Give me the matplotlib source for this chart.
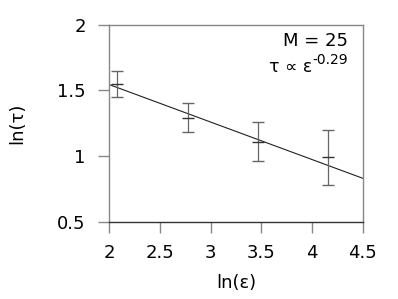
import numpy as np
import matplotlib
matplotlib.use("Agg")
import matplotlib.pyplot as plt

# data
ln_eps = [np.log(8), np.log(16), np.log(32), np.log(64)]
ln_tau = [1.545, 1.29, 1.11, 0.99]
ln_tau_err = [0.10, 0.11, 0.148, 0.21]

# fitted power law  tau ~ eps^slope
slope = -0.285
intercept = 2.113
fit_x = [2.0, 4.5]

fig = plt.figure(figsize=(3.98, 2.99), dpi=100)
ax = fig.add_axes([0.2746, 0.2585, 0.9113 - 0.2746, 0.918 - 0.2585])

fit_y = [intercept + slope * x for x in fit_x]
ax.plot(fit_x, fit_y, color="#222222", lw=0.8)

ax.errorbar(ln_eps, ln_tau, yerr=ln_tau_err, fmt="_", color="#333333",
            ecolor="#666666", elinewidth=0.9, capsize=4.5, capthick=0.9,
            markersize=9, markeredgewidth=1.0)

ax.set_xlim(2, 4.5)
ax.set_ylim(0.5, 2)
ax.set_xticks([2, 2.5, 3, 3.5, 4, 4.5])
ax.set_xticklabels(["2", "2.5", "3", "3.5", "4", "4.5"])
ax.set_yticks([0.5, 1, 1.5, 2])
ax.set_yticklabels(["0.5", "1", "1.5", "2"])

for s in ["top", "right", "left"]:
    ax.spines[s].set_color("#888888")
ax.spines["bottom"].set_color("#333333")
for s in ax.spines.values():
    s.set_linewidth(1.0)
ax.tick_params(direction="out", length=8, width=1.0, color="#888888",
               labelsize=13)
ax.tick_params(axis="x", pad=8)
ax.tick_params(axis="y", pad=9)

ax.set_xlabel("ln(ε)", fontsize=13, labelpad=8.5)
ax.set_ylabel("ln(τ)", fontsize=13, labelpad=22)

# legend-like annotation in the upper right corner
ax.text(0.942, 0.891, "M = 25", transform=ax.transAxes, ha="right",
        va="baseline", fontsize=13)
ax.text(0.942, 0.80, "-0.29", transform=ax.transAxes, ha="right",
        va="baseline", fontsize=10)
ax.text(0.80, 0.759, "τ ∝ ε", transform=ax.transAxes, ha="right",
        va="baseline", fontsize=12.5)

fig.savefig("out.png", dpi=100)
